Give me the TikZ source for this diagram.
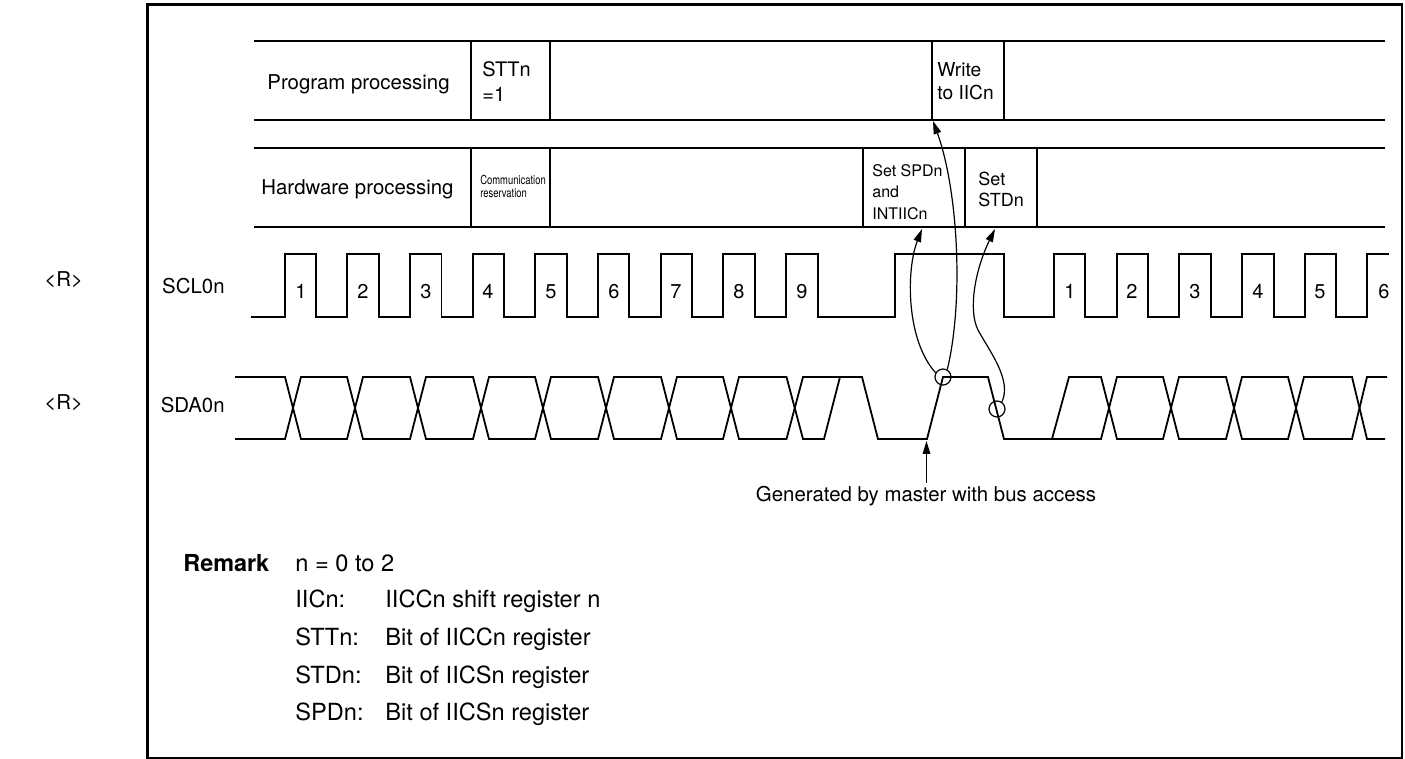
\documentclass[tikz,border=0pt]{standalone}
\usepackage{fontspec}
\setmainfont{TeX Gyre Heros}
\usetikzlibrary{arrows.meta}

\tikzset{
    rowline/.style={line width=0.85pt},
    waveline/.style={line width=0.9pt, line join=miter},
    flagarrow/.style={-{Stealth[length=6.5pt, width=3.8pt, inset=0pt]}, line width=0.6pt},
    marker/.style={draw, circle, line width=0.6pt, minimum size=8pt, inner sep=0pt},
    celltext/.style={anchor=base west, inner sep=0pt, font=\fontsize{9}{11}\selectfont},
    rowtext/.style={anchor=base west, inner sep=0pt, font=\fontsize{10.2}{12}\selectfont},
    pulsetext/.style={anchor=base, inner sep=0pt, font=\fontsize{10}{12}\selectfont},
    remarktext/.style={anchor=base west, inner sep=0pt, font=\fontsize{11.8}{14}\selectfont},
}

\begin{document}
\begin{tikzpicture}[x=0.5pt, y=-0.5pt]

\useasboundingbox (0,0) rectangle (1405,759);

% ---------------- FRAME ----------------

\draw[
    line width=1.4pt
] (147.5,4.5) rectangle (1402,758);

\node[rowtext] (markscl) at (44,287) {<R>};
\node[rowtext] (marksda) at (44,410) {<R>};

% ---------------- PROGRAM ROW ----------------

\draw[rowline] (254,41) -- (1385,41);
\draw[rowline] (254,120) -- (1385,120);
\foreach \cellx in {471,550,932,1004} {
    \draw[rowline] (\cellx,41) -- (\cellx,120);
}

\node[rowtext] (progname) at (267,90) {Program processing};
\node[celltext, font=\fontsize{10}{12}\selectfont] (sttfirst) at (482,77) {STTn};
\node[celltext, font=\fontsize{10}{12}\selectfont] (sttsecond) at (482,102) {=1};
\node[celltext, font=\fontsize{9.6}{11}\selectfont] (writefirst) at (937,77) {Write};
\node[celltext, font=\fontsize{9.6}{11}\selectfont] (writesecond) at (937,100) {to IICn};

% ---------------- HARDWARE ROW ----------------

\draw[rowline] (254,148) -- (1385,148);
\draw[rowline] (254,227) -- (1385,227);
\foreach \cellx in {471,550,863,965,1037} {
    \draw[rowline] (\cellx,148) -- (\cellx,227);
}

\node[rowtext] (hardname) at (261,195) {Hardware processing};
\node[celltext, font=\fontsize{6.2}{7}\selectfont, xscale=0.76, transform shape] (commfirst) at (480,185) {Communication};
\node[celltext, font=\fontsize{6.2}{7}\selectfont, xscale=0.76, transform shape] (commsecond) at (480,198) {reservation};
\node[celltext, font=\fontsize{8}{10}\selectfont] (spdfirst) at (872,177) {Set SPDn};
\node[celltext, font=\fontsize{8}{10}\selectfont] (spdsecond) at (872,198) {and};
\node[celltext, font=\fontsize{8}{10}\selectfont] (spdthird) at (872,220) {INTIICn};
\node[celltext] (stdfirst) at (978,186) {Set};
\node[celltext] (stdsecond) at (978,207) {STDn};

% ---------------- SCL ----------------

\node[rowtext, anchor=base east] (sclname) at (225,294) {SCL0n};

\draw[waveline] (251,317)
    -- (285,317) -- (285,254) -- (316,254) -- (316,317)
    -- (347,317) -- (347,254) -- (379,254) -- (379,317)
    -- (410,317) -- (410,254) -- (441.5,254) -- (441.5,317)
    -- (473,317) -- (473,254) -- (504,254) -- (504,317)
    -- (535,317) -- (535,254) -- (567,254) -- (567,317)
    -- (598,317) -- (598,254) -- (629,254) -- (629,317)
    -- (661,317) -- (661,254) -- (692,254) -- (692,317)
    -- (723,317) -- (723,254) -- (755,254) -- (755,317)
    -- (786,317) -- (786,254) -- (818,254) -- (818,317)
    -- (895,317) -- (895,254) -- (1004,254) -- (1004,317)
    -- (1054,317) -- (1054,254) -- (1085,254) -- (1085,317)
    -- (1117,317) -- (1117,254) -- (1148,254) -- (1148,317)
    -- (1179,317) -- (1179,254) -- (1211,254) -- (1211,317)
    -- (1242,317) -- (1242,254) -- (1274,254) -- (1274,317)
    -- (1305,317) -- (1305,254) -- (1336,254) -- (1336,317)
    -- (1367,317) -- (1367,254) -- (1389,254);

\foreach \pulsex/\pulsenum in {301/1,363/2,426/3,488/4,551/5,614/6,676/7,739/8,802/9,
    1070/1,1132/2,1195/3,1258/4,1320/5,1384/6} {
    \node[pulsetext] (pulse\pulsex) at (\pulsex,299) {\pulsenum};
}

% ---------------- SDA ----------------

\node[rowtext, anchor=base east] (sdaname) at (225,413) {SDA0n};

% Upper edge
\draw[waveline] (235,377)
    -- (285,377) -- (301,439) -- (347,439) -- (363,377)
    -- (410,377) -- (426,439) -- (473,439) -- (489,377)
    -- (535,377) -- (551,439) -- (598,439) -- (614,377)
    -- (661,377) -- (677,439) -- (723,439) -- (739,377)
    -- (786.5,377) -- (803,439) -- (824,439) -- (840,377)
    -- (862,377) -- (878,439) -- (927,439) -- (943,377)
    -- (988,377) -- (1004,439) -- (1101,439) -- (1117,377)
    -- (1163,377) -- (1179,439) -- (1226,439) -- (1242,377)
    -- (1288,377) -- (1304,439) -- (1352,439) -- (1367,377) -- (1387,377);

% Lower edge
\draw[waveline] (235,439)
    -- (285,439) -- (301,377) -- (347,377) -- (363,439)
    -- (410,439) -- (426,377) -- (473,377) -- (489,439)
    -- (535,439) -- (551,377) -- (598,377) -- (614,439)
    -- (661,439) -- (677,377) -- (723,377) -- (739,439)
    -- (786.5,439) -- (803,377) -- (840,377);
\draw[waveline] (1004,439) -- (1052,439) -- (1069,377) -- (1101,377) -- (1117,439)
    -- (1163,439) -- (1179,377) -- (1226,377) -- (1242,439)
    -- (1288,439) -- (1304,377) -- (1352,377) -- (1367,439) -- (1385,439);

% ---------------- ARROWS ----------------

\node[marker] (spdmark) at (943,377) {};
\node[marker] (stdmark) at (997,409) {};

\coordinate (writeend) at (933,121);
\coordinate (spdend) at (922,229);
\coordinate (stdend) at (995,229);
\coordinate (busend) at (926.5,441);
\coordinate (busstart) at (926.5,483);

\draw[flagarrow] (spdmark.60)
    .. controls (964,300) and (958,190) .. (writeend);
\draw[flagarrow] (spdmark.150)
    .. controls (906,340) and (906,270) .. (spdend);
\draw[flagarrow] (stdmark.55)
    .. controls (1012,380) and (990,352) .. (978,330)
    .. controls (968,310) and (975,270) .. (stdend);

\node[celltext, anchor=base, font=\fontsize{10.2}{12}\selectfont] (busnote) at (926,502) {Generated by master with bus access};
\draw[flagarrow] (busstart) -- (busend);

% ---------------- REMARK ----------------

\node[remarktext, font=\fontsize{11.7}{14}\bfseries\selectfont] (remarkhead) at (183,572) {Remark};
\node[remarktext] (remarkn) at (295,572) {n = 0 to 2};
\node[remarktext] (iicname) at (295,608) {IICn:};
\node[remarktext] (iictext) at (385,608) {IICCn shift register n};
\node[remarktext] (sttname) at (295,646) {STTn:};
\node[remarktext] (stttext) at (385,646) {Bit of IICCn register};
\node[remarktext] (stdname) at (295,683) {STDn:};
\node[remarktext] (stdtext) at (385,683) {Bit of IICSn register};
\node[remarktext] (spdname) at (295,720) {SPDn:};
\node[remarktext] (spdtext) at (385,720) {Bit of IICSn register};

\end{tikzpicture}
\end{document}
